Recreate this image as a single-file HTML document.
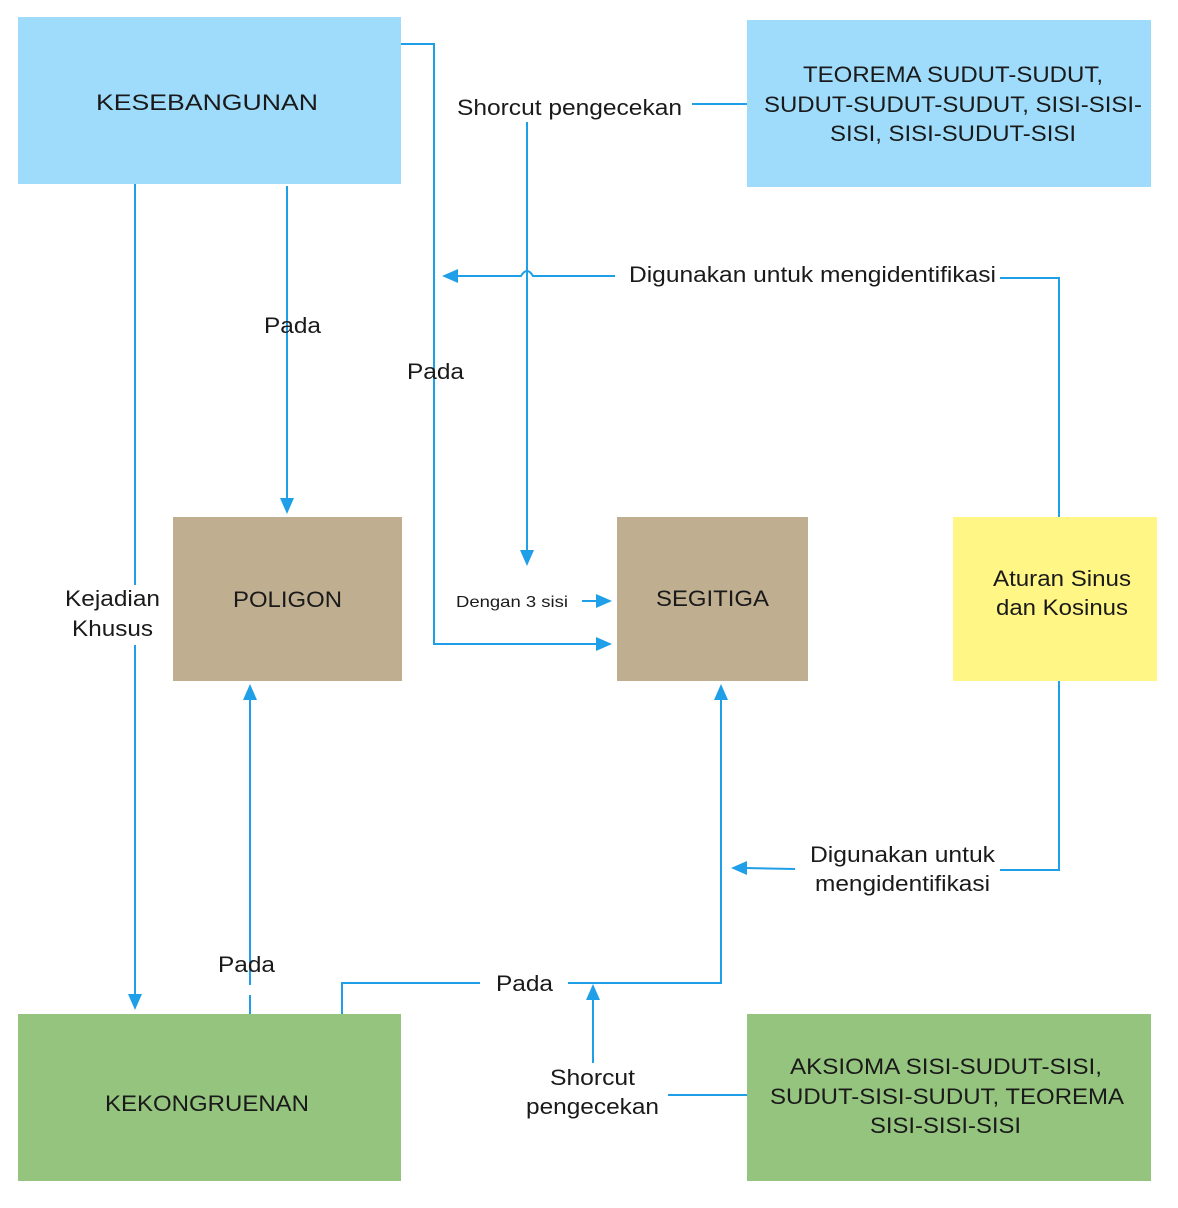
<!DOCTYPE html>
<html><head><meta charset="utf-8"><style>
html,body{margin:0;padding:0;background:#fff;}
svg{display:block;font-family:"Liberation Sans",Arial,sans-serif;}
</style></head><body>
<svg width="1178" height="1208" viewBox="0 0 1178 1208" xmlns="http://www.w3.org/2000/svg" font-family="Liberation Sans, Arial, sans-serif">
<g fill="none" stroke="#1f9fe8" stroke-width="2">
<polyline points="401,44 434,44 434,644 600,644"/>
<polyline points="747,104 692,104"/>
<polyline points="527,122 527,553"/>
<polyline points="1059,517 1059,278 1000,278"/>
<path d="M615,276 L533,276 Q527,266 521,276 L455,276"/>
<line x1="582" y1="601" x2="600" y2="601"/>
<line x1="287" y1="186" x2="287" y2="500"/>
<line x1="135" y1="184" x2="135" y2="585"/>
<line x1="135" y1="645" x2="135" y2="997"/>
<line x1="250" y1="995" x2="250" y2="1014"/>
<line x1="250" y1="985" x2="250" y2="698"/>
<polyline points="342,1014 342,983 480,983"/>
<polyline points="568,983 721,983 721,697"/>
<polyline points="747,1095 668,1095"/>
<line x1="593" y1="1063" x2="593" y2="998"/>
<polyline points="1059,681 1059,870 1000,870"/>
<line x1="795" y1="869" x2="745" y2="868"/>
</g>
<g fill="#1f9fe8">
<polygon points="612,644 596,637 596,651"/>
<polygon points="527,566 520,550 534,550"/>
<polygon points="442,276 458,269 458,283"/>
<polygon points="612,601 596,594 596,608"/>
<polygon points="287,514 280,498 294,498"/>
<polygon points="135,1010 128,994 142,994"/>
<polygon points="250,684 243,700 257,700"/>
<polygon points="721,684 714,700 728,700"/>
<polygon points="593,984 586,1000 600,1000"/>
<polygon points="731,868 747,861 747,875"/>
</g>
<rect x="18" y="17" width="383" height="167" fill="#9fdcfb"/>
<rect x="747" y="20" width="404" height="167" fill="#9fdcfb"/>
<rect x="173" y="517" width="229" height="164" fill="#bfae90"/>
<rect x="617" y="517" width="191" height="164" fill="#bfae90"/>
<rect x="953" y="517" width="204" height="164" fill="#fff685"/>
<rect x="18" y="1014" width="383" height="167" fill="#95c47f"/>
<rect x="747" y="1014" width="404" height="167" fill="#95c47f"/>
<g fill="#1a1a1a" font-size="22" lengthAdjust="spacingAndGlyphs">
<text x="96" y="110" textLength="222" lengthAdjust="spacingAndGlyphs">KESEBANGUNAN</text>
<text x="803" y="82" textLength="300" lengthAdjust="spacingAndGlyphs">TEOREMA SUDUT-SUDUT,</text>
<text x="764" y="112" textLength="378" lengthAdjust="spacingAndGlyphs">SUDUT-SUDUT-SUDUT, SISI-SISI-</text>
<text x="830" y="141" textLength="246" lengthAdjust="spacingAndGlyphs">SISI, SISI-SUDUT-SISI</text>
<text x="233" y="607" textLength="109" lengthAdjust="spacingAndGlyphs">POLIGON</text>
<text x="656" y="606" textLength="113" lengthAdjust="spacingAndGlyphs">SEGITIGA</text>
<text x="993" y="586" textLength="138" lengthAdjust="spacingAndGlyphs">Aturan Sinus</text>
<text x="996" y="615" textLength="132" lengthAdjust="spacingAndGlyphs">dan Kosinus</text>
<text x="105" y="1111" textLength="204" lengthAdjust="spacingAndGlyphs">KEKONGRUENAN</text>
<text x="790" y="1074" textLength="312" lengthAdjust="spacingAndGlyphs">AKSIOMA SISI-SUDUT-SISI,</text>
<text x="770" y="1104" textLength="354" lengthAdjust="spacingAndGlyphs">SUDUT-SISI-SUDUT, TEOREMA</text>
<text x="870" y="1133" textLength="151" lengthAdjust="spacingAndGlyphs">SISI-SISI-SISI</text>
<text x="457" y="115" textLength="225" lengthAdjust="spacingAndGlyphs">Shorcut pengecekan</text>
<text x="629" y="282" textLength="367" lengthAdjust="spacingAndGlyphs">Digunakan untuk mengidentifikasi</text>
<text x="407" y="379" textLength="57" lengthAdjust="spacingAndGlyphs">Pada</text>
<text x="264" y="333" textLength="57" lengthAdjust="spacingAndGlyphs">Pada</text>
<text x="456" y="607" font-size="16" textLength="112" lengthAdjust="spacingAndGlyphs">Dengan 3 sisi</text>
<text x="65" y="606" textLength="95" lengthAdjust="spacingAndGlyphs">Kejadian</text>
<text x="72" y="636" textLength="81" lengthAdjust="spacingAndGlyphs">Khusus</text>
<text x="218" y="972" textLength="57" lengthAdjust="spacingAndGlyphs">Pada</text>
<text x="496" y="991" textLength="57" lengthAdjust="spacingAndGlyphs">Pada</text>
<text x="550" y="1085" textLength="85" lengthAdjust="spacingAndGlyphs">Shorcut</text>
<text x="526" y="1114" textLength="133" lengthAdjust="spacingAndGlyphs">pengecekan</text>
<text x="810" y="862" textLength="185" lengthAdjust="spacingAndGlyphs">Digunakan untuk</text>
<text x="815" y="891" textLength="175" lengthAdjust="spacingAndGlyphs">mengidentifikasi</text>
</g>
</svg>
</body></html>
